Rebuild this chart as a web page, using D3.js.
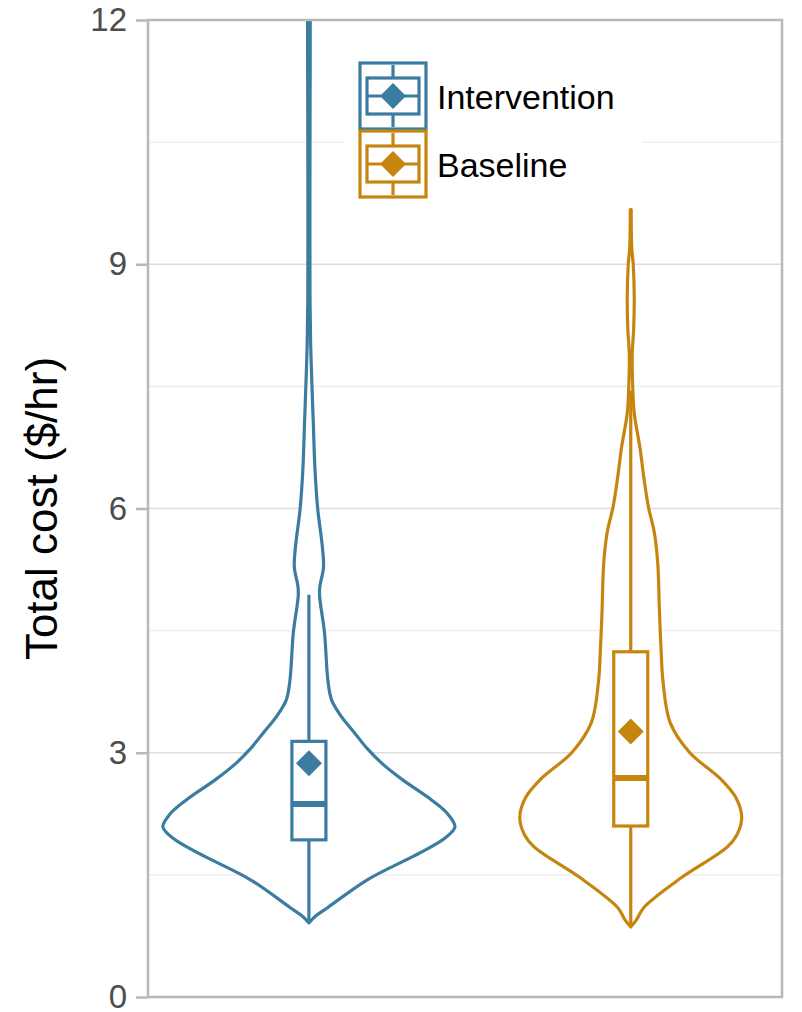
<!DOCTYPE html>
<html>
<head>
<meta charset="utf-8">
<script src="https://cdn.jsdelivr.net/npm/d3@7"></script>
<style>
  html, body { margin: 0; padding: 0; background: #ffffff; }
  svg { display: block; font-family: "Liberation Sans", Arial, sans-serif; }
</style>
</head>
<body>
<svg id="chart" width="802" height="1012"></svg>
<script>
// ---------- data ----------
const categories = ["Intervention", "Baseline"];
const colors = ["#3b7ca0", "#c5850f"];
const yMajorTicks = [0, 3, 6, 9, 12];
const yMinorTicks = [1.5, 4.5, 7.5, 10.5];

// violin density profiles: [value, relative density]
const interventionDensity = [
  [0.91, 0], [1.0, 0.05], [1.1, 0.13], [1.44, 0.40], [1.77, 0.76], [1.95, 0.93],
  [2.09, 1.0], [2.25, 0.95], [2.42, 0.84], [2.67, 0.64], [2.87, 0.50], [3.05, 0.40],
  [3.25, 0.31], [3.45, 0.22], [3.65, 0.155], [3.89, 0.13], [4.47, 0.107], [4.93, 0.073],
  [5.04, 0.075], [5.28, 0.10], [5.53, 0.092], [6.0, 0.06], [6.5, 0.041], [7.0, 0.031],
  [7.5, 0.021], [8.0, 0.012], [8.5, 0.008], [9.0, 0.007], [10.0, 0.007], [11.0, 0.008],
  [12.0, 0.009], [12.5, 0.004]
];
const baselineDensity = [
  [0.86, 0], [0.95, 0.04], [1.1, 0.09], [1.47, 0.35], [1.84, 0.66], [2.0, 0.73],
  [2.21, 0.76], [2.45, 0.72], [2.67, 0.62], [3.01, 0.40], [3.37, 0.27], [3.89, 0.22],
  [4.1, 0.212], [4.72, 0.197], [5.33, 0.185], [5.70, 0.162], [6.02, 0.121], [6.35, 0.092],
  [6.76, 0.062], [7.17, 0.024], [7.58, 0.012], [7.9, 0.010], [8.2, 0.020], [8.6, 0.024],
  [9.0, 0.017], [9.2, 0.007], [9.67, 0.003]
];
const densities = [interventionDensity, baselineDensity];

// box plot statistics per category
const whiskerLow  = [0.91, 0.86];
const q1          = [1.93, 2.10];
const medians     = [2.37, 2.69];
const q3          = [3.14, 4.24];
const whiskerHigh = [4.94, 7.45];
const means       = [2.87, 3.26];

(function () {
// ---------- layout ----------
const svg = d3.select("#chart");
const pLeft = 148, pRight = 782, pTop = 20, pBottom = 997;
const x = d3.scaleLinear().domain([0.5, 2.47]).range([pLeft, pRight]);
const y = d3.scaleLinear().domain([0, 12]).range([pBottom, pTop]);
const w = d3.scaleLinear().domain([0, 1]).range([0, 146]);
const boxHalf = 17;
const lw = 3.2;
const gridColor = "#dedede", minorColor = "#ececec", borderColor = "#b8b8b8";

svg.append("defs").append("clipPath").attr("id", "plotClip")
  .append("rect").attr("x", pLeft).attr("y", pTop).attr("width", pRight - pLeft).attr("height", pBottom - pTop);

// gridlines
svg.append("g").selectAll("line").data(yMinorTicks).join("line")
  .attr("x1", pLeft).attr("x2", pRight).attr("y1", d => y(d)).attr("y2", d => y(d))
  .attr("stroke", minorColor).attr("stroke-width", 1.3);
svg.append("g").selectAll("line").data(yMajorTicks).join("line")
  .attr("x1", pLeft).attr("x2", pRight).attr("y1", d => y(d)).attr("y2", d => y(d))
  .attr("stroke", gridColor).attr("stroke-width", 1.5);

const plot = svg.append("g").attr("clip-path", "url(#plotClip)");

// violins
categories.forEach((cat, i) => {
  const cx = x(i + 1);
  const area = d3.area()
    .y(d => y(d[0]))
    .x0(d => cx - w(d[1]))
    .x1(d => cx + w(d[1]))
    .curve(d3.curveCatmullRom.alpha(0.5));
  plot.append("path").datum(densities[i]).attr("d", area)
    .attr("fill", "#ffffff").attr("stroke", colors[i]).attr("stroke-width", lw)
    .attr("stroke-linejoin", "round");
});

// box plots
categories.forEach((cat, i) => {
  const cx = x(i + 1);
  const g = plot.append("g");
  g.append("line").attr("x1", cx).attr("x2", cx).attr("y1", y(whiskerLow[i])).attr("y2", y(q1[i]))
    .attr("stroke", colors[i]).attr("stroke-width", lw);
  g.append("line").attr("x1", cx).attr("x2", cx).attr("y1", y(q3[i])).attr("y2", y(whiskerHigh[i]))
    .attr("stroke", colors[i]).attr("stroke-width", lw);
  g.append("rect").attr("x", cx - boxHalf).attr("width", boxHalf * 2)
    .attr("y", y(q3[i])).attr("height", y(q1[i]) - y(q3[i]))
    .attr("fill", "#ffffff").attr("stroke", colors[i]).attr("stroke-width", lw);
  g.append("line").attr("x1", cx - boxHalf).attr("x2", cx + boxHalf)
    .attr("y1", y(medians[i])).attr("y2", y(medians[i]))
    .attr("stroke", colors[i]).attr("stroke-width", 6);
  const my = y(means[i]), r = 13;
  g.append("path").attr("d", `M${cx},${my - r}L${cx + r},${my}L${cx},${my + r}L${cx - r},${my}Z`)
    .attr("fill", colors[i]);
});

// panel border
svg.append("rect").attr("x", pLeft).attr("y", pTop).attr("width", pRight - pLeft).attr("height", pBottom - pTop)
  .attr("fill", "none").attr("stroke", borderColor).attr("stroke-width", 2.5);

// y axis
const yAxis = d3.axisLeft(y).tickValues(yMajorTicks).tickSize(12).tickPadding(9).tickFormat(d3.format("d"));
const ag = svg.append("g").attr("transform", `translate(${pLeft},0)`).call(yAxis);
ag.select(".domain").remove();
ag.selectAll(".tick line").attr("stroke", borderColor).attr("stroke-width", 2.5);
ag.selectAll(".tick text").attr("fill", "#4d4d4d").style("font-size", "33px")
  .style("font-family", "'Liberation Sans', Arial, sans-serif");

svg.append("text").attr("transform", `translate(${41},${(pTop + pBottom) / 2}) rotate(-90)`)
  .attr("text-anchor", "middle").attr("dominant-baseline", "central")
  .style("font-size", "44px").attr("fill", "#000000").text("Total cost ($/hr)");

// legend
const lg = svg.append("g");
lg.append("rect").attr("x", 345).attr("y", 55).attr("width", 297).attr("height", 150).attr("fill", "#ffffff");
categories.forEach((cat, i) => {
  const kx = 360, ky = 63 + i * 68, ks = 66, kc = kx + ks / 2, kcy = ky + ks / 2;
  const c = colors[i];
  const k = lg.append("g");
  k.append("rect").attr("x", kx).attr("y", ky).attr("width", ks).attr("height", ks)
    .attr("fill", "#ffffff").attr("stroke", c).attr("stroke-width", lw);
  k.append("line").attr("x1", kc).attr("x2", kc).attr("y1", ky + 2).attr("y2", ky + ks - 2)
    .attr("stroke", c).attr("stroke-width", lw);
  k.append("rect").attr("x", kx + 7).attr("y", kcy - 18).attr("width", ks - 14).attr("height", 36)
    .attr("fill", "#ffffff").attr("stroke", c).attr("stroke-width", lw);
  k.append("line").attr("x1", kx + 7).attr("x2", kx + ks - 7).attr("y1", kcy).attr("y2", kcy)
    .attr("stroke", c).attr("stroke-width", lw);
  k.append("path").attr("d", `M${kc},${kcy - 13}L${kc + 13},${kcy}L${kc},${kcy + 13}L${kc - 13},${kcy}Z`)
    .attr("fill", c);
  lg.append("text").attr("x", 437).attr("y", kcy + 1).attr("dominant-baseline", "central")
    .style("font-size", "34px").attr("fill", "#000000").text(cat);
});
})();
</script>
</body>
</html>
